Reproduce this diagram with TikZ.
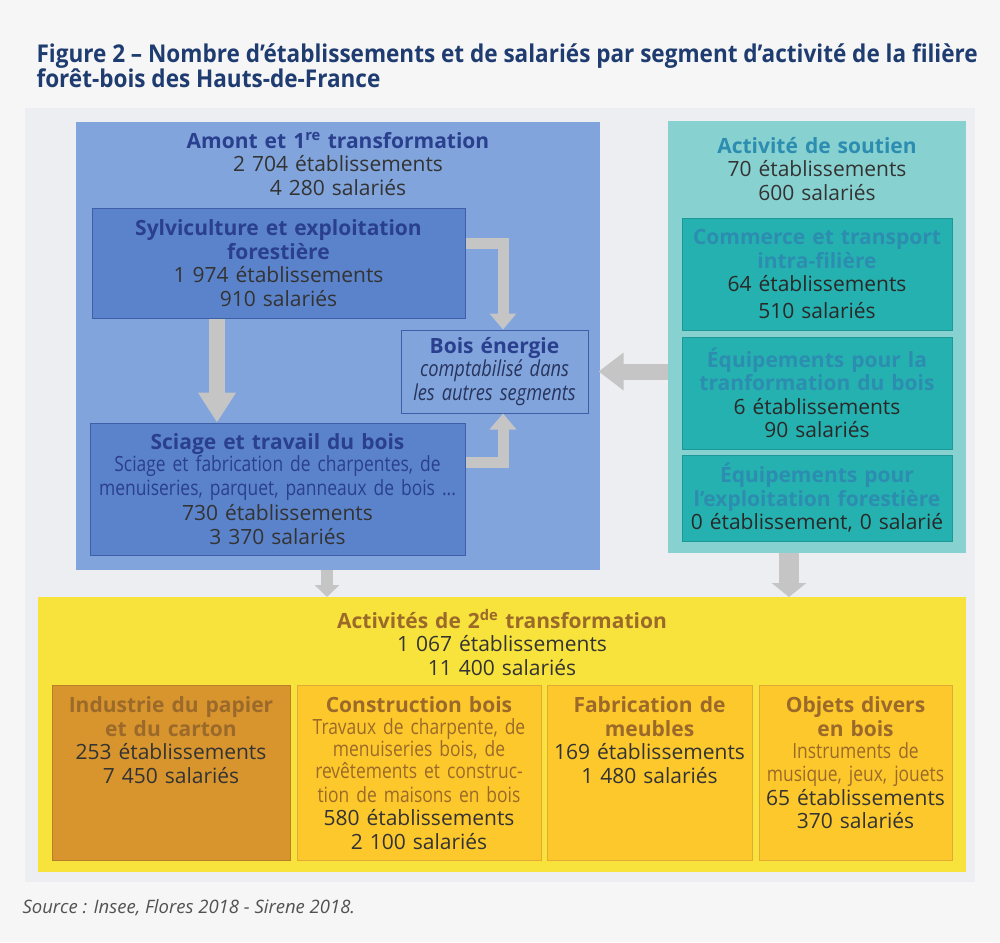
\documentclass[tikz,border=0pt]{standalone}
\usepackage{fontspec}
\setmainfont{Open Sans}
\newfontfamily\condfont[FakeStretch=0.83]{Open Sans}
\newfontfamily\titlefont[FakeStretch=0.92]{Open Sans}
\usetikzlibrary{
	arrows.meta,
	positioning,
}
\definecolor{PageGray}{HTML}{F6F6F7}
\definecolor{PanelGray}{HTML}{EDEEF1}
\definecolor{TitleBlue}{HTML}{1F3C70}
\definecolor{AmontFill}{HTML}{80A4DB}
\definecolor{SubBlue}{HTML}{5B83CB}
\definecolor{LineBlue}{HTML}{3E5FA6}
\definecolor{HeadBlue}{HTML}{2A3F8E}
\definecolor{ItalBlue}{HTML}{28345E}
\definecolor{SoutienFill}{HTML}{88D1D1}
\definecolor{SubTeal}{HTML}{25B1AF}
\definecolor{LineTeal}{HTML}{1C9896}
\definecolor{HeadTeal}{HTML}{2C8DB0}
\definecolor{YellowFill}{HTML}{F8E33C}
\definecolor{SubYellow}{HTML}{FDC82C}
\definecolor{PaperFill}{HTML}{D8952E}
\definecolor{LineYellow}{HTML}{E3A835}
\definecolor{HeadBrown}{HTML}{9B6A2A}
\definecolor{TextGray}{HTML}{333333}
\definecolor{ArrowGray}{HTML}{C5C5C5}
\newcommand{\headB}[1]{{\bfseries\color{HeadBlue} #1}}
\newcommand{\headT}[1]{{\bfseries\color{HeadTeal} #1}}
\newcommand{\headY}[1]{{\bfseries\color{HeadBrown} #1}}
\newcommand{\desc}[1]{{\condfont\fontsize{21}{22}\selectfont #1}}

\begin{document}
\begin{tikzpicture}[
		x=1pt, y=-1pt,
		every node/.style={font=\fontsize{21}{23.5}\selectfont, text=TextGray, align=center},
		bigbox/.style = {rectangle, anchor=north, inner xsep=0pt, inner ysep=9pt,
			text height=17pt},
		subbox/.style = {rectangle, line width=1pt, inner xsep=0pt},
		lowbox/.style = {subbox, anchor=north, inner ysep=10pt,
			text height=17pt, text depth=138pt,
			fill=SubYellow, draw=LineYellow},
		flow/.style = {ArrowGray, line width=14pt},
	]
	\useasboundingbox[fill=PageGray] (0,0) rectangle (1000,942);
	\fill[PanelGray] (25,108) rectangle (975,882);
	% titre et source
	\node[anchor=north west, align=left, text=TitleBlue,
		font=\titlefont\bfseries\fontsize{24.5}{24}\selectfont] (titre) at (33,40)
		{Figure 2 – Nombre d’établissements et de salariés par segment d’activité de la filière\\
		forêt-bois des Hauts-de-France};
	\node[anchor=base west, text=TextGray!85,
		font=\itshape\fontsize{18.5}{24}\selectfont] (source) at (19,913)
		{Source : Insee, Flores 2018 - Sirene 2018.};
	% amont et 1re transformation
	\node[bigbox, fill=AmontFill, text width=524pt, text depth=413pt] (amont) at (338,122)
		{\headB{Amont et 1\textsuperscript{re} transformation}\\2 704 établissements\\4 280 salariés};
	\node[subbox, fill=SubBlue, draw=LineBlue, text width=373pt, minimum height=110pt] (sylv) at (278.5,263)
		{\headB{Sylviculture et exploitation}\\\headB{forestière}\\1 974 établissements\\910 salariés};
	\node[subbox, fill=SubBlue, draw=LineBlue, text width=375pt, minimum height=132pt] (sciage) at (277.5,489)
		{\headB{Sciage et travail du bois}\\
		\desc{\color{HeadBlue}Sciage et fabrication de charpentes, de\\menuiseries, parquet, panneaux de bois ...}\\[2pt]
		730 établissements\\3 370 salariés};
	\node[subbox, fill=AmontFill, draw=LineBlue, text width=187pt, minimum height=83pt] (bois) at (494.5,371.5)
		{\headB{Bois énergie}\\
		{\condfont\itshape\fontsize{22}{23}\selectfont\color{ItalBlue}comptabilisé dans\\les autres segments}};
	% activite de soutien
	\node[bigbox, fill=SoutienFill, inner ysep=15pt, text width=298pt, text depth=385pt] (soutien) at (817,121)
		{\headT{Activité de soutien}\\70 établissements\\600 salariés};
	\begin{scope}[every node/.append style={subbox, fill=SubTeal, draw=LineTeal,
			text width=270pt, text=TextGray!80!black}]
		\node[minimum height=112pt] (commerce) at (817,274)
			{\headT{Commerce et transport}\\\headT{intra-filière}\\64 établissements\\[3pt]510 salariés};
		\node[minimum height=112pt] (equip) at (817,393)
			{\headT{Équipements pour la}\\\headT{tranformation du bois}\\6 établissements\\90 salariés};
		\node[minimum height=86pt] (exploit) at (817,498)
			{\headT{Équipements pour}\\\headT{l’exploitation forestière}\\0 établissement, 0 salarié};
	\end{scope}
	% 2de transformation
	\node[bigbox, fill=YellowFill, inner ysep=14pt, text width=928pt, text depth=230pt] (deuxieme) at (502,597)
		{\headY{Activités de 2\textsuperscript{de} transformation}\\1 067 établissements\\11 400 salariés};
	\node[lowbox, fill=PaperFill, draw=PaperFill!85!black, text width=238pt] (papier) at (171,685)
		{\headY{Industrie du papier}\\\headY{et du carton}\\253 établissements\\7 450 salariés};
	\node[lowbox, text width=244pt] (construction) at (419,685)
		{\headY{Construction bois}\\
		\desc{\color{HeadBrown}Travaux de charpente, de\\menuiseries bois, de\\revêtements et construc-\\tion de maisons en bois}\\
		580 établissements\\2 100 salariés};
	\node[lowbox, text width=205pt] (meubles) at (649.5,685)
		{\headY{Fabrication de}\\\headY{meubles}\\169 établissements\\1 480 salariés};
	\node[lowbox, text width=193pt] (objets) at (855.5,685)
		{\headY{Objets divers}\\\headY{en bois}\\
		\desc{\color{HeadBrown}Instruments de\\musique, jeux, jouets}\\
		65 établissements\\370 salariés};
	% fleches
	\draw[flow, line width=16pt, -{Triangle[length=30pt, width=36pt]}]
		([xshift=-61.5pt]sylv.south) -- ([xshift=-60.5pt]sciage.north);
	\draw[flow, line width=11pt, -{Triangle[length=16pt, width=26pt]}]
		([yshift=20pt]sylv.east) -| ([xshift=8.5pt]bois.north);
	\draw[flow, line width=11pt, -{Triangle[length=16pt, width=26pt]}]
		([yshift=27pt]sciage.east) -| ([xshift=8.5pt]bois.south);
	\draw[flow, line width=16pt, -{Triangle[length=25pt, width=36pt]}]
		(soutien.west |- bois.east) -- ([xshift=10pt]bois.east);
	\draw[flow, line width=12pt, -{Triangle[length=12pt, width=24pt]}]
		([xshift=-11pt]amont.south) -- ([xshift=-11pt]amont.south |- deuxieme.north);
	\draw[flow, line width=20pt, -{Triangle[length=14pt, width=34pt]}]
		([xshift=-28pt]soutien.south) -- ([xshift=-28pt]soutien.south |- deuxieme.north);
\end{tikzpicture}
\end{document}
